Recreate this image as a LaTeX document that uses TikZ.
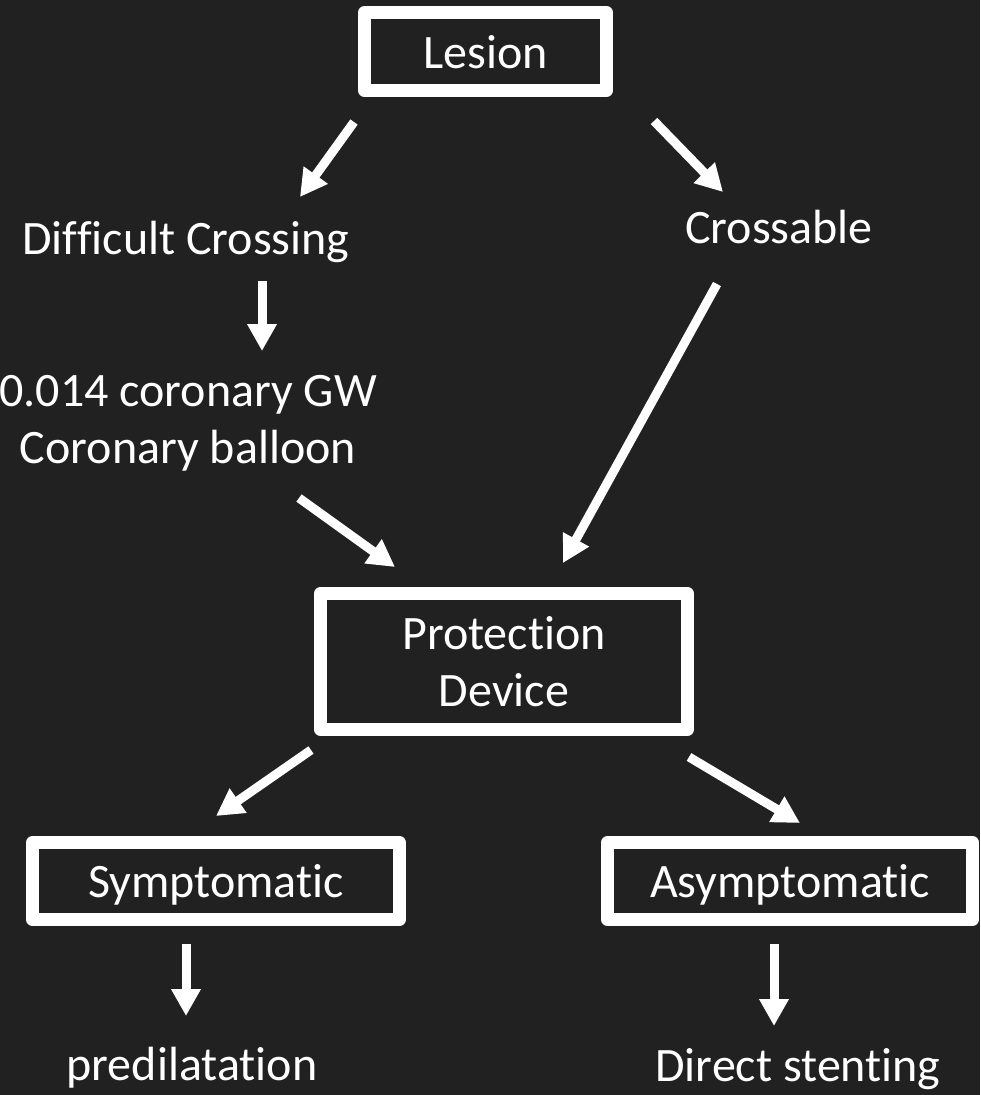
\documentclass[tikz,border=0pt]{standalone}
\usepackage{fontspec}
\setmainfont[Ligatures=NoCommon]{Carlito}
\usetikzlibrary{arrows.meta}
\definecolor{slide}{RGB}{32,33,32}
\tikzset{x=1pt, y=-1pt, % one unit is one pixel of the slide, y goes down
every node/.style={ % white slide text
text=white,
font=\fontsize{48}{57}\selectfont,
text depth=0pt},
stage/.style={ % boxed steps
draw=white, fill=slide,
line width=13pt, line join=round,
inner sep=0pt},
flow/.style={ % thick white arrows
draw=white, line width=9pt,
-{Triangle[length=27pt, width=28pt]}}}

\begin{document}
\begin{tikzpicture}

    \fill[slide] (0,0) rectangle (980,1095);
    \useasboundingbox (0,0) rectangle (980,1095);

    \node[stage, minimum width=242pt, minimum height=78pt] (lesion) at (485.5,51.5) {Lesion};
    \node[anchor=base] (difficult) at (186,254) {Difficult Crossing};
    \node[anchor=base] (crossable) at (779,243) {Crossable};
    \node[align=center] (wire) at (188,419) {0.014 coronary GW\\Coronary balloon};
    \node[stage, align=center, minimum width=367pt, minimum height=136pt] (device) at (504,661.5) {Protection\\Device};
    \node[stage, minimum width=367pt, minimum height=77pt] (sympt) at (216,881) {Symptomatic};
    \node[stage, minimum width=365pt, minimum height=77pt] (asympt) at (790,881) {Asymptomatic};
    \node[anchor=base] (predil) at (192,1080) {predilatation};
    \node[anchor=base] (direct) at (798,1081) {Direct stenting};

    % arrow ends
    \coordinate (lesion-l) at (354,122);
    \coordinate (difficult-t) at (300,197);
    \coordinate (lesion-r) at (654,121);
    \coordinate (crossable-t) at (723,192);
    \coordinate (difficult-b) at (262,281);
    \coordinate (wire-t) at (262,351);
    \coordinate (wire-b) at (299,498);
    \coordinate (device-l) at (395,567);
    \coordinate (crossable-b) at (717,284);
    \coordinate (device-r) at (563,563);
    \coordinate (device-sw) at (311,750);
    \coordinate (sympt-t) at (216,816);
    \coordinate (device-se) at (689,757);
    \coordinate (asympt-t) at (800,823);
    \coordinate (sympt-b) at (186,944);
    \coordinate (predil-t) at (186,1016);
    \coordinate (asympt-b) at (774,944);
    \coordinate (direct-t) at (774,1026);

    \draw[flow] (lesion-l) -- (difficult-t);
    \draw[flow] (lesion-r) -- (crossable-t);
    \draw[flow] (difficult-b) -- (wire-t);
    \draw[flow] (wire-b) -- (device-l);
    \draw[flow] (crossable-b) -- (device-r);
    \draw[flow] (device-sw) -- (sympt-t);
    \draw[flow] (device-se) -- (asympt-t);
    \draw[flow] (sympt-b) -- (predil-t);
    \draw[flow] (asympt-b) -- (direct-t);

\end{tikzpicture}
\end{document}
